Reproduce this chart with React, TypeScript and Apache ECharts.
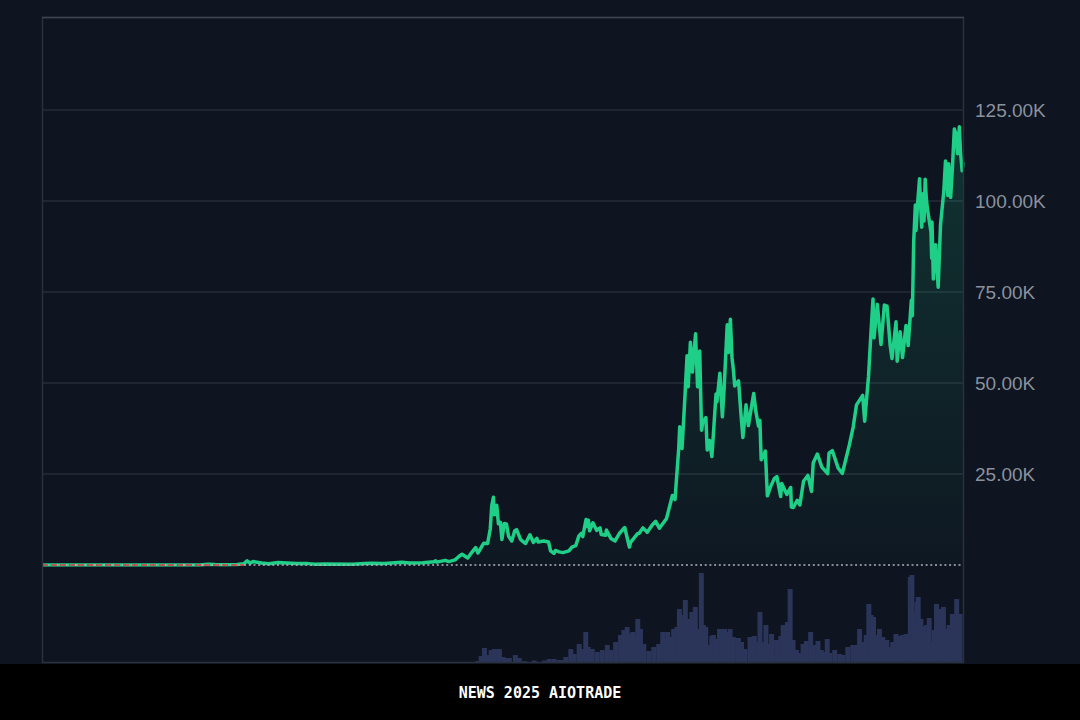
import React, { useEffect, useRef } from "react";
import * as echarts from "echarts";

const priceDates = [
  "2010-07-18","2010-11-06","2011-02-10","2011-06-08","2011-08-15","2011-11-18","2012-04-01","2012-08-16","2012-12-01","2013-02-20",
  "2013-04-09","2013-05-20","2013-07-05","2013-10-01","2013-11-10","2013-11-30","2013-12-18","2014-01-05","2014-02-25","2014-04-10",
  "2014-06-03","2014-09-20","2014-12-01","2015-01-14","2015-03-11","2015-08-24","2015-11-04","2015-12-15","2016-03-01","2016-06-16",
  "2016-08-02","2016-10-20","2016-12-25","2017-01-04","2017-01-11","2017-03-03","2017-03-24","2017-05-01","2017-05-25","2017-06-12",
  "2017-07-16","2017-08-05","2017-09-01","2017-09-15","2017-10-20","2017-11-12","2017-11-28","2017-12-07","2017-12-17","2017-12-22",
  "2017-12-31","2018-01-06","2018-01-16","2018-01-28","2018-02-06","2018-02-20","2018-03-05","2018-03-18","2018-04-06","2018-04-24",
  "2018-05-05","2018-05-28","2018-06-13","2018-06-28","2018-07-24","2018-08-14","2018-09-04","2018-09-11","2018-10-15","2018-11-13",
  "2018-11-25","2018-12-15","2018-12-24","2019-01-15","2019-02-07","2019-03-15","2019-04-02","2019-04-25","2019-05-14","2019-05-29",
  "2019-06-06","2019-06-26","2019-07-02","2019-07-10","2019-07-17","2019-08-06","2019-08-29","2019-09-18","2019-09-25","2019-10-22",
  "2019-10-26","2019-11-22","2019-12-17","2020-01-14","2020-02-13","2020-03-12","2020-03-19","2020-04-30","2020-05-10","2020-06-01",
  "2020-06-27","2020-07-27","2020-08-17","2020-09-08","2020-10-21","2020-11-05","2020-11-25","2020-12-11","2020-12-16","2021-01-02",
  "2021-01-08","2021-01-22","2021-02-08","2021-02-21","2021-02-28","2021-03-13","2021-03-25","2021-04-13","2021-04-25","2021-05-08",
  "2021-05-19","2021-05-26","2021-06-14","2021-06-22","2021-07-06","2021-07-20","2021-08-14","2021-08-19","2021-09-06","2021-09-21",
  "2021-10-01","2021-10-20","2021-10-27","2021-11-08","2021-11-18","2021-11-26","2021-12-04","2021-12-27","2022-01-10","2022-01-22",
  "2022-02-10","2022-02-24","2022-03-28","2022-04-10","2022-04-26","2022-05-04","2022-05-12","2022-06-06","2022-06-18","2022-07-08",
  "2022-07-30","2022-08-14","2022-09-06","2022-09-12","2022-10-13","2022-11-05","2022-11-09","2022-11-21","2022-12-14","2022-12-30",
  "2023-01-21","2023-02-16","2023-03-10","2023-03-20","2023-04-14","2023-05-11","2023-06-15","2023-06-23","2023-07-13","2023-08-17",
  "2023-09-11","2023-10-23","2023-11-15","2023-12-05","2024-01-11","2024-01-23","2024-02-15","2024-02-28","2024-03-13","2024-03-19",
  "2024-04-08","2024-04-30","2024-05-20","2024-06-05","2024-06-24","2024-07-05","2024-07-29","2024-08-05","2024-08-23","2024-09-06",
  "2024-09-27","2024-10-10","2024-10-29","2024-11-04","2024-11-12","2024-11-22","2024-11-26","2024-12-05","2024-12-17","2024-12-30",
  "2025-01-06","2025-01-13","2025-01-20","2025-01-27","2025-02-03","2025-02-24","2025-02-28","2025-03-02","2025-03-10","2025-03-24",
  "2025-04-08","2025-04-22","2025-05-12","2025-05-22","2025-06-05","2025-06-10","2025-06-22","2025-07-03","2025-07-14","2025-07-23",
  "2025-08-02","2025-08-13","2025-08-20","2025-08-30","2025-09-04",
];

const priceValues = [
  0.09,0.4,1,29,11,2.3,4.9,13,12.5,29,
  230,122,68,125,330,1130,520,950,530,360,
  670,410,380,180,290,210,400,460,430,750,
  550,630,900,1150,780,1280,930,1420,2400,2950,
  1910,3200,4800,3300,6000,5900,9900,16300,18600,13800,
  14000,16400,11300,11700,7000,11400,11300,7900,6600,9400,
  9700,7100,6400,5900,8300,6200,7300,6300,6600,6300,
  3900,3200,4000,3600,3400,3900,4900,5300,8000,8700,
  7800,12500,10600,12300,9400,11600,9500,10200,8400,8200,
  9600,7300,6600,8800,10300,4900,6200,8600,8700,10200,
  9000,11000,12000,10100,12800,15500,19100,18000,21300,32000,
  38000,32000,46000,57500,49000,61200,53000,63500,49000,58800,
  37000,39300,40500,31600,34200,29800,47000,44800,52700,40700,
  48100,66000,58400,67500,56900,53700,49200,50600,41800,35000,
  44000,38300,47100,42200,38100,39700,28900,31300,19000,21600,
  23800,24300,18800,22400,19400,21300,15900,15800,17800,16500,
  23000,24600,20200,28000,30500,26900,25100,30700,31400,26600,
  25200,33000,37900,44000,46600,39500,51800,62500,73100,62400,
  71600,60600,71400,71100,60300,56700,66800,56000,64100,57000,
  65800,60300,72700,68500,88700,98900,91900,98800,106100,92800,
  102000,94500,106000,100600,97700,91500,84300,94200,78600,88000,
  76300,93400,102800,111000,101500,110200,101000,109600,119800,118500,
  113000,120400,113500,108300,110700,
];

const volumeDates = [
  "2017-09-14","2017-10-04","2017-10-24","2017-11-13","2017-12-03","2017-12-23","2018-01-12","2018-01-22","2018-02-11","2018-03-05",
  "2018-03-23","2018-04-28","2018-05-22","2018-06-21","2018-08-20","2018-10-19","2018-11-18","2018-12-18","2019-01-17","2019-02-04",
  "2019-02-27","2019-03-29","2019-04-18","2019-05-18","2019-06-06","2019-06-27","2019-07-12","2019-08-05","2019-09-05","2019-10-05",
  "2019-11-04","2019-11-24","2019-12-24","2020-01-23","2020-02-12","2020-03-03","2020-03-23","2020-04-06","2020-04-22","2020-05-06",
  "2020-05-22","2020-06-11","2020-07-11","2020-08-10","2020-09-09","2020-10-03","2020-10-19","2020-11-02","2020-11-18","2020-12-08",
  "2020-12-28","2021-01-12","2021-01-31","2021-02-17","2021-03-08","2021-03-28","2021-04-18","2021-05-07","2021-05-24","2021-06-06",
  "2021-06-20","2021-07-11","2021-07-26","2021-08-05","2021-08-15","2021-08-25","2021-09-11","2021-09-24","2021-10-11","2021-10-29",
  "2021-11-14","2021-12-04","2022-01-03","2022-01-22","2022-02-12","2022-03-14","2022-04-09","2022-04-29","2022-05-13","2022-06-02",
  "2022-06-18","2022-07-02","2022-07-22","2022-08-21","2022-09-16","2022-09-30","2022-10-26","2022-11-11","2022-11-29","2022-12-19",
  "2023-01-08","2023-01-28","2023-02-17","2023-03-15","2023-04-04","2023-04-28","2023-05-18","2023-06-08","2023-06-23","2023-07-08",
  "2023-08-07","2023-09-06","2023-09-25","2023-10-25","2023-11-24","2023-12-14","2024-01-04","2024-01-24","2024-02-13","2024-02-29",
  "2024-03-13","2024-03-28","2024-04-13","2024-05-03","2024-05-23","2024-06-16","2024-07-02","2024-07-22","2024-08-11","2024-08-31",
  "2024-09-20","2024-10-10","2024-10-24","2024-11-05","2024-11-15","2024-11-29","2024-12-15","2024-12-23","2025-01-08","2025-01-28",
  "2025-02-11","2025-02-27","2025-03-15","2025-03-29","2025-04-12","2025-04-24","2025-05-04","2025-05-14","2025-05-24","2025-06-07",
  "2025-06-27","2025-07-17","2025-07-31","2025-08-12","2025-08-22","2025-09-01",
];

const volumeValues = [
  1,6,14,7,12,13,12,13,5,4,
  4,7,4,1,1.5,1.5,3,3,2,2,
  5,13,8,18,13,30,15,13,10,12,
  17,12,20,27,32,35,28,30,25,43,
  33,18,11,15,18,30,23,30,25,33,
  35,53,47,62,43,50,55,33,89,37,
  35,17,26,27,23,23,33,22,33,30,
  33,25,24,20,13,25,26,20,50,20,
  37,18,28,22,26,37,40,73,22,12,
  9,18,21,30,17,21,12,10,23,9,
  12,8,7,15,17,17,33,20,27,58,
  47,45,27,33,25,22,15,20,28,26,
  27,28,27,85,87,50,60,65,43,35,
  37,44,20,32,58,32,53,33,55,33,
  37,48,47,63,47,48,
];

const startDate = "2010-07-18";
const endDate = "2025-09-04";
const redSegmentEnd = "2013-11-10";

export default function App() {
  const ref = useRef<HTMLDivElement>(null);

  useEffect(() => {
    document.body.style.margin = "0";
    const chart = echarts.init(ref.current!, null, { renderer: "svg" });
    const priceData = priceDates.map((d, i) => [d, priceValues[i]]);
    const volumeData = volumeDates.map((d, i) => [d, volumeValues[i]]);
    const grid = "#262c38";

    chart.setOption({
      animation: false,
      backgroundColor: "#0e1420",
      grid: [
        { left: 42, right: 117, top: 19, height: 546 },
        { left: 42, right: 117, top: 568, bottom: 58 },
      ],
      xAxis: [
        { type: "time", gridIndex: 0, min: startDate, max: endDate, show: false },
        { type: "time", gridIndex: 1, min: startDate, max: endDate, show: false },
      ],
      yAxis: [
        {
          type: "value",
          gridIndex: 0,
          position: "right",
          min: 0,
          max: 150000,
          interval: 25000,
          axisLine: { show: false },
          axisTick: { show: false },
          axisLabel: {
            margin: 12,
            color: "#8b919d",
            fontSize: 19,
            fontFamily: "Liberation Sans, Arial, sans-serif",
            showMinLabel: false,
            showMaxLabel: false,
            formatter: (v: number) => (v / 1000).toFixed(2) + "K",
          },
          splitLine: {
            lineStyle: {
              color: ["rgba(0,0,0,0)", grid, grid, grid, grid, grid, "rgba(0,0,0,0)"],
              width: 1.5,
            },
          },
        },
        { type: "value", gridIndex: 1, min: 0, max: 94, show: false },
      ],
      graphic: [
        {
          type: "rect",
          shape: { x: 42.5, y: 17.5, width: 921, height: 645 },
          style: { fill: "none", stroke: "#2a303c", lineWidth: 1.5 },
          silent: true,
          z: 10,
        },
        {
          type: "line",
          shape: { x1: 42, y1: 17.5, x2: 964, y2: 17.5 },
          style: { stroke: "#3d434f", lineWidth: 1.5 },
          silent: true,
          z: 11,
        },
        {
          type: "rect",
          shape: { x: 0, y: 664, width: 1080, height: 56 },
          style: { fill: "#000000" },
          silent: true,
          z: 20,
        },
        {
          type: "text",
          x: 540,
          y: 693,
          style: {
            text: "NEWS 2025 AIOTRADE",
            fill: "#ffffff",
            font: "bold 15px 'DejaVu Sans Mono', monospace",
            textAlign: "center",
            textVerticalAlign: "middle",
          },
          silent: true,
          z: 21,
        },
      ],
      series: [
        {
          type: "bar",
          xAxisIndex: 1,
          yAxisIndex: 1,
          data: volumeData,
          barWidth: 5,
          itemStyle: { color: "#2b3459" },
          silent: true,
        },
        {
          type: "line",
          xAxisIndex: 0,
          yAxisIndex: 0,
          data: priceData,
          showSymbol: false,
          symbol: "none",
          lineStyle: { color: "#1fcf88", width: 3.5, join: "round" },
          areaStyle: {
            color: new echarts.graphic.LinearGradient(0, 0, 0, 1, [
              { offset: 0, color: "rgba(31,207,136,0.24)" },
              { offset: 1, color: "rgba(31,207,136,0.03)" },
            ]),
          },
          z: 3,
          markLine: {
            silent: true,
            symbol: ["none", "none"],
            label: { show: false },
            lineStyle: { color: "#aeb3bc", type: [2, 2.7], width: 1.5 },
            data: [{ yAxis: 0 }],
          },
        },
        {
          type: "line",
          xAxisIndex: 0,
          yAxisIndex: 0,
          data: [
            [startDate, 0],
            [redSegmentEnd, 0],
          ],
          symbol: "none",
          clip: false,
          lineStyle: { color: "#e0353d", width: 1.5, type: [6, 3] },
          silent: true,
          z: 6,
        },
      ],
    });

    return () => chart.dispose();
  }, []);

  return (
    <div
      ref={ref}
      style={{ position: "absolute", left: 0, top: 0, width: 1080, height: 720 }}
    />
  );
}
